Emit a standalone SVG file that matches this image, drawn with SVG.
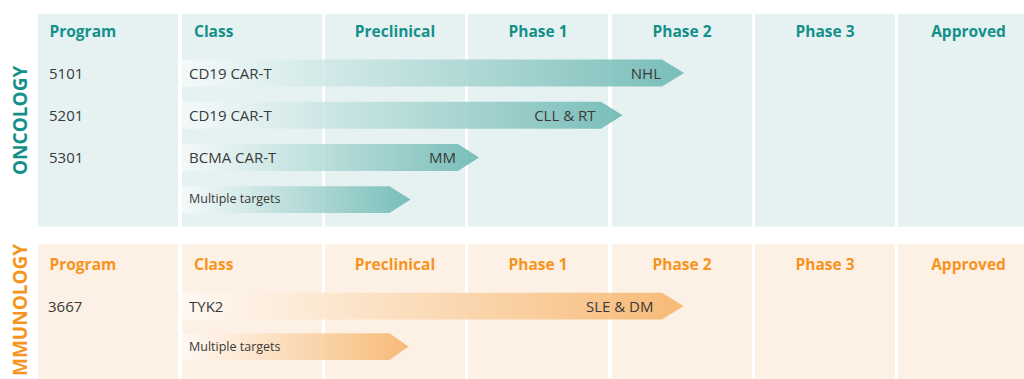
<svg xmlns="http://www.w3.org/2000/svg" width="1024" height="379" viewBox="0 0 1024 379">
<defs>
<linearGradient id="gTeal" x1="0" y1="0" x2="1" y2="0">
<stop offset="0" stop-color="#f6fbfb" stop-opacity="0.85"/>
<stop offset="1" stop-color="#6db8b2" stop-opacity="0.9"/>
</linearGradient>
<linearGradient id="gOrange" x1="0" y1="0" x2="1" y2="0">
<stop offset="0" stop-color="#fffaf5" stop-opacity="0.85"/>
<stop offset="1" stop-color="#f6b46a" stop-opacity="0.9"/>
</linearGradient>
</defs>
<style>
.bgT{fill:#e6f2f2}
.bgO{fill:#fdf0e5}
.hd{font-family:"Open Sans","Liberation Sans",sans-serif;font-weight:bold;font-size:15.5px}
.hT{fill:#14908a}
.hO{fill:#f7941d}
.c{text-anchor:middle}
.tx{font-family:"Open Sans","Liberation Sans",sans-serif;font-size:15px;fill:#3a3a3a}
.sm{font-family:"Open Sans","Liberation Sans",sans-serif;font-size:12.5px;fill:#3a3a3a}
.end{text-anchor:end}
.side{font-family:"Open Sans","Liberation Sans",sans-serif;font-weight:bold;font-size:19px}
</style>
<rect width="1024" height="379" fill="#ffffff"/>
<g id="oncology-panel">
<rect class="bgT" x="38" y="14" width="140" height="212.7"/>
<rect class="bgT" x="182" y="14" width="140" height="212.7"/>
<rect class="bgT" x="325" y="14" width="140" height="212.7"/>
<rect class="bgT" x="468" y="14" width="140" height="212.7"/>
<rect class="bgT" x="612" y="14" width="140" height="212.7"/>
<rect class="bgT" x="755" y="14" width="140" height="212.7"/>
<rect class="bgT" x="898" y="14" width="126" height="212.7"/>
<text class="side hT" transform="translate(27,175) rotate(-90)">ONCOLOGY</text>
<text class="hd hT" x="49.5" y="37">Program</text>
<text class="hd hT" x="194" y="37">Class</text>
<text class="hd hT c" x="395" y="37">Preclinical</text>
<text class="hd hT c" x="538" y="37">Phase 1</text>
<text class="hd hT c" x="682" y="37">Phase 2</text>
<text class="hd hT c" x="825" y="37">Phase 3</text>
<text class="hd hT c" x="968.5" y="37">Approved</text>
</g>
<g id="immunology-panel">
<rect class="bgO" x="38" y="244" width="140" height="135"/>
<rect class="bgO" x="182" y="244" width="140" height="135"/>
<rect class="bgO" x="325" y="244" width="140" height="135"/>
<rect class="bgO" x="468" y="244" width="140" height="135"/>
<rect class="bgO" x="612" y="244" width="140" height="135"/>
<rect class="bgO" x="755" y="244" width="140" height="135"/>
<rect class="bgO" x="898" y="244" width="126" height="135"/>
<text class="side hO" transform="translate(27,376) rotate(-90)">MMUNOLOGY</text>
<text class="hd hO" x="49.5" y="270">Program</text>
<text class="hd hO" x="194" y="270">Class</text>
<text class="hd hO c" x="395" y="270">Preclinical</text>
<text class="hd hO c" x="538" y="270">Phase 1</text>
<text class="hd hO c" x="682" y="270">Phase 2</text>
<text class="hd hO c" x="825" y="270">Phase 3</text>
<text class="hd hO c" x="968.5" y="270">Approved</text>
</g>
<g id="bars">
<polygon id="bar-5101" fill="url(#gTeal)" points="182,59.5 662,59.5 684,73 662,86.5 182,86.5"/>
<polygon id="bar-5201" fill="url(#gTeal)" points="182,101.8 601,101.8 622.5,115.3 601,128.8 182,128.8"/>
<polygon id="bar-5301" fill="url(#gTeal)" points="182,144.1 458,144.1 479,157.6 458,171.1 182,171.1"/>
<polygon id="bar-onc-multi" fill="url(#gTeal)" points="182,186.2 389.5,186.2 410.5,199.6 389.5,213 182,213"/>
<polygon id="bar-3667" fill="url(#gOrange)" points="182,292.8 662,292.8 683.5,306.1 662,319.4 182,319.4"/>
<polygon id="bar-imm-multi" fill="url(#gOrange)" points="182,333.3 389.5,333.3 408.5,346.6 389.5,360 182,360"/>
</g>
<g id="labels">
<text class="tx" x="49" y="79">5101</text>
<text class="tx" x="189" y="79">CD19 CAR-T</text>
<text class="tx end" x="661" y="79">NHL</text>
<text class="tx" x="49" y="121">5201</text>
<text class="tx" x="189" y="121">CD19 CAR-T</text>
<text class="tx end" x="595.5" y="121">CLL &amp; RT</text>
<text class="tx" x="49" y="163">5301</text>
<text class="tx" x="189" y="163">BCMA CAR-T</text>
<text class="tx end" x="456" y="163">MM</text>
<text class="sm" x="189" y="203">Multiple targets</text>
<text class="tx" x="48" y="311.5">3667</text>
<text class="tx" x="189" y="311.5">TYK2</text>
<text class="tx end" x="653.5" y="311.5">SLE &amp; DM</text>
<text class="sm" x="189" y="350.7">Multiple targets</text>
</g>
</svg>
